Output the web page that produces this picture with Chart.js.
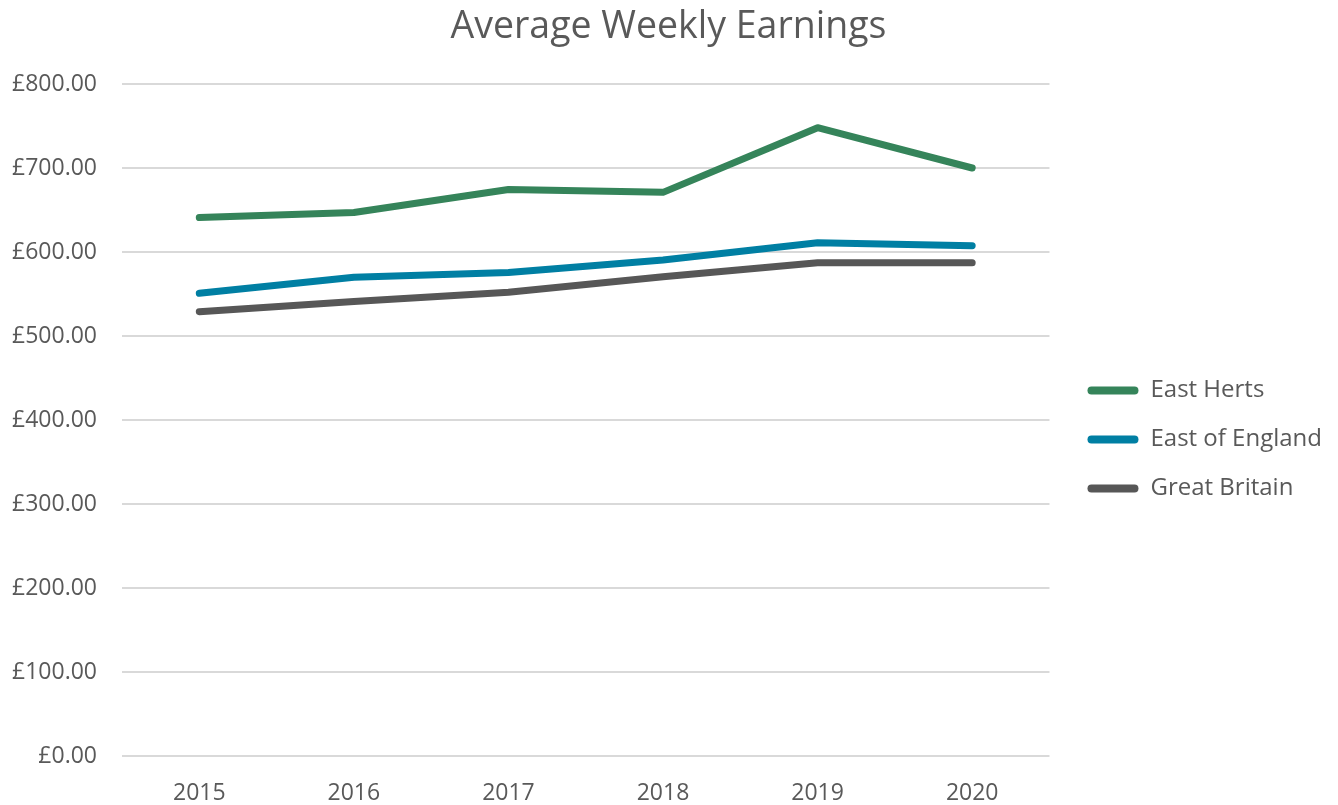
<!DOCTYPE html>
<html>
<head>
<meta charset="utf-8">
<script src="https://cdn.jsdelivr.net/npm/chart.js@4/dist/chart.umd.min.js"></script>
<style>
html,body{margin:0;padding:0;background:#fff;}
#wrap{width:1338px;height:805px;}
</style>
</head>
<body>
<div id="wrap"><canvas id="c" width="1338" height="805"></canvas></div>
<script>
const years = ['2015','2016','2017','2018','2019','2020'];
const eastHerts = [641, 647, 674.5, 671, 748, 700];
const eastOfEngland = [550.8, 570, 575.5, 590.5, 611, 607.5];
const greatBritain = [529, 541, 552, 570.5, 587.3, 587.3];
const yTicks = [0, 100, 200, 300, 400, 500, 600, 700, 800];

const FONT = "'Open Sans', 'Noto Sans', sans-serif";
const GREY = '#595959';

function ds(label, data, color) {
  return {
    label, data,
    borderColor: color, backgroundColor: color,
    borderWidth: 7, borderCapStyle: 'round', borderJoinStyle: 'round',
    pointRadius: 0, pointHoverRadius: 0, tension: 0, fill: false
  };
}

const blockShift = {
  id: 'blockShift',
  afterLayout(chart) {
    const lg = chart.legend;
    if (lg) { lg.top += 37; lg.bottom += 37; lg.left += 13; lg.right += 13; }
    const tb = chart.titleBlock;
    if (tb) { tb.left += 9; tb.right += 9; }
  }
};

new Chart(document.getElementById('c'), {
  type: 'line',
  data: {
    labels: years,
    datasets: [
      ds('East Herts', eastHerts, '#35845A'),
      ds('East of England', eastOfEngland, '#007FA3'),
      ds('Great Britain', greatBritain, '#575757')
    ]
  },
  plugins: [blockShift],
  options: {
    responsive: false,
    animation: false,
    devicePixelRatio: 1,
    layout: { padding: { left: 0, right: 19, top: 0, bottom: 0 } },
    plugins: {
      title: {
        display: true, text: 'Average Weekly Earnings', color: GREY,
        font: { family: FONT, size: 37.5, weight: 'normal' },
        padding: { top: 5, bottom: 34 }
      },
      legend: {
        position: 'right', align: 'center',
        labels: {
          color: GREY, font: { family: FONT, size: 24 },
          boxWidth: 51, boxHeight: 8, padding: 25,
          useBorderRadius: true, borderRadius: 4,
          generateLabels: (chart) => {
            const items = Chart.defaults.plugins.legend.labels.generateLabels(chart);
            items.forEach(it => { it.lineWidth = 0; });
            return items;
          }
        }
      },
      tooltip: { enabled: false }
    },
    scales: {
      x: {
        offset: true,
        afterFit: (axis) => { axis.height = 49; },
        grid: { display: false, drawTicks: false },
        border: { display: false },
        ticks: { color: GREY, font: { family: FONT, size: 23 }, padding: 24 }
      },
      y: {
        min: 0, max: 800,
        afterBuildTicks: (axis) => { axis.ticks = yTicks.map(v => ({ value: v })); },
        afterFit: (axis) => { axis.width = 122; },
        grid: { color: '#d9d9d9', lineWidth: 2, drawTicks: false },
        border: { display: false },
        ticks: {
          color: GREY, font: { family: FONT, size: 23 }, padding: 25,
          callback: (v) => '£' + Number(v).toFixed(2)
        }
      }
    }
  }
});
</script>
</body>
</html>
